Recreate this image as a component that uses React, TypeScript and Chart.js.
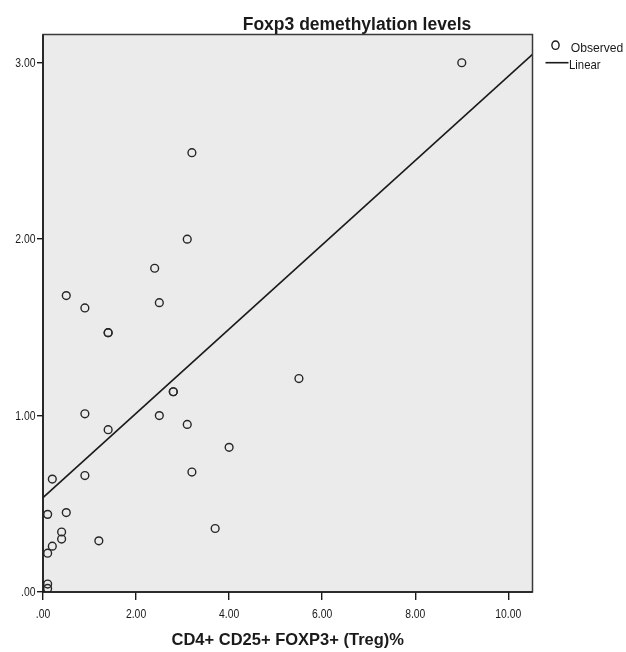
import React, { useEffect, useRef } from "react";
import { Chart, registerables } from "chart.js";

Chart.register(...registerables);

// ---- data ----
const observedX = [9.0, 3.2, 3.1, 2.4, 0.5, 0.9, 2.5, 1.4, 1.4, 2.8, 2.8, 0.9, 2.5, 1.4, 3.1, 4.0, 5.5, 3.2, 0.2, 0.9, 0.1, 0.5, 0.4, 0.4, 0.2, 0.1, 1.2, 3.7, 0.1, 0.1];
const observedY = [3.0, 2.49, 2.0, 1.835, 1.68, 1.61, 1.64, 1.47, 1.47, 1.135, 1.135, 1.01, 1.0, 0.92, 0.95, 0.82, 1.21, 0.68, 0.64, 0.66, 0.44, 0.45, 0.34, 0.3, 0.26, 0.22, 0.29, 0.36, 0.045, 0.02];
const fitX = [0, 10.52];
const fitY = [0.535, 3.048];
const xTickValues = [0, 2, 4, 6, 8, 10];
const yTickValues = [0, 1, 2, 3];
const chartTitle = "Foxp3 demethylation levels";
const xAxisTitle = "CD4+ CD25+ FOXP3+ (Treg)%";
const legendLabels = ["Observed", "Linear"];

const fmt = (v: number) => {
  const s = v.toFixed(2);
  return s.startsWith("0") ? s.slice(1) : s;
};

const FONT = 'Arial, "Liberation Sans", sans-serif';
const INK = "#1a1a1a";

function narrowText(ctx: CanvasRenderingContext2D, text: string, x: number, y: number, size: number, align: CanvasTextAlign, baseline: CanvasTextBaseline, sx: number, bold = false) {
  ctx.save();
  ctx.font = `${bold ? "bold " : "normal "}${size}px ${FONT}`;
  ctx.textAlign = align;
  ctx.textBaseline = baseline;
  ctx.fillStyle = INK;
  ctx.translate(x, y);
  ctx.scale(sx, 1);
  ctx.fillText(text, 0, 0);
  ctx.restore();
}

const decor = {
  id: "decor",
  beforeDraw(chart: any) {
    const { ctx, chartArea: a } = chart;
    ctx.save();
    ctx.fillStyle = "#ebebeb";
    ctx.fillRect(a.left, a.top, a.right - a.left, a.bottom - a.top);
    ctx.restore();
  },
  afterDraw(chart: any) {
    const { ctx, chartArea: a, scales } = chart;
    // frame
    ctx.save();
    ctx.strokeStyle = "#3a3a3a";
    ctx.lineWidth = 1.5;
    ctx.strokeRect(a.left, a.top, a.right - a.left, a.bottom - a.top);
    ctx.strokeStyle = INK;
    ctx.lineWidth = 1.6;
    ctx.beginPath();
    ctx.moveTo(a.left, a.top);
    ctx.lineTo(a.left, a.bottom);
    ctx.lineTo(a.right, a.bottom);
    ctx.stroke();
    ctx.restore();
    // tick labels
    const xs = scales.x, ys = scales.y;
    xTickValues.forEach((v) => {
      narrowText(ctx, fmt(v), xs.getPixelForValue(v), 617.5, 13.5, "center", "alphabetic", 0.77);
    });
    yTickValues.forEach((v) => {
      narrowText(ctx, fmt(v), 35.5, ys.getPixelForValue(v) + 0.5, 13.5, "right", "middle", 0.77);
    });
    // title
    narrowText(ctx, chartTitle, 357, 29.5, 17.5, "center", "alphabetic", 1, true);
    // legend
    ctx.save();
    ctx.strokeStyle = INK;
    ctx.lineWidth = 1.4;
    ctx.beginPath();
    ctx.ellipse(555.5, 45.2, 3.6, 4.2, 0, 0, Math.PI * 2);
    ctx.stroke();
    ctx.lineWidth = 1.6;
    ctx.beginPath();
    ctx.moveTo(545.5, 62.7);
    ctx.lineTo(568.5, 62.7);
    ctx.stroke();
    ctx.restore();
    narrowText(ctx, legendLabels[0], 570.7, 51.7, 13.5, "left", "alphabetic", 0.9);
    narrowText(ctx, legendLabels[1], 569, 69, 13.5, "left", "alphabetic", 0.84);
  },
};

export default function App() {
  const ref = useRef<HTMLCanvasElement | null>(null);
  useEffect(() => {
    if (!ref.current) return;
    const chart = new Chart(ref.current, {
      type: "scatter",
      data: {
        datasets: [
          {
            label: legendLabels[1],
            type: "line",
            data: fitX.map((x, i) => ({ x, y: fitY[i] })),
            borderColor: INK,
            borderWidth: 1.6,
            pointRadius: 0,
            fill: false,
            showLine: true,
          } as any,
          {
            label: legendLabels[0],
            data: observedX.map((x, i) => ({ x, y: observedY[i] })),
            pointStyle: "circle",
            pointRadius: 3.9,
            backgroundColor: "rgba(0,0,0,0)",
            borderColor: "#262626",
            borderWidth: 1.4,
          },
        ],
      },
      options: {
        responsive: false,
        animation: false,
        layout: { padding: { top: 34.5, right: 93.5, left: 0, bottom: 0 } },
        plugins: { legend: { display: false }, tooltip: { enabled: false }, title: { display: false } },
        scales: {
          x: {
            type: "linear",
            min: 0,
            max: 10.52,
            afterFit: (s: any) => { s.height = 60; },
            afterBuildTicks: (s: any) => { s.ticks = xTickValues.map((v) => ({ value: v })); },
            ticks: { display: false, includeBounds: false },
            grid: { display: true, drawOnChartArea: false, drawTicks: true, tickLength: 8, color: INK, lineWidth: 1.4 },
            border: { display: false },
            title: {
              display: true,
              text: xAxisTitle,
              font: { family: FONT, size: 16.5, weight: "bold" },
              color: INK,
              padding: { top: 0, bottom: 2 },
            },
          },
          y: {
            type: "linear",
            min: 0,
            max: 3.16,
            afterFit: (s: any) => { s.width = 43; },
            afterBuildTicks: (s: any) => { s.ticks = yTickValues.map((v) => ({ value: v })); },
            ticks: { display: false, includeBounds: false },
            grid: { display: true, drawOnChartArea: false, drawTicks: true, tickLength: 6, color: INK, lineWidth: 1.4 },
            border: { display: false },
          },
        },
      } as any,
      plugins: [decor],
    });
    return () => chart.destroy();
  }, []);
  return (
    <div style={{ position: "fixed", left: 0, top: 0, width: 626, height: 652, background: "#fff" }}>
      <canvas ref={ref} width={626} height={652} style={{ width: 626, height: 652, display: "block" }} />
    </div>
  );
}
